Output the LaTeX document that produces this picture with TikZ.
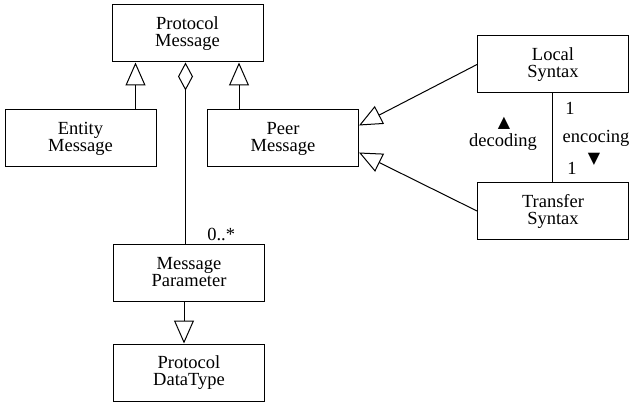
\documentclass[tikz,border=0pt]{standalone}
\usepackage{fontspec}
\setmainfont{Liberation Serif}
\newfontfamily\symfont{DejaVu Sans}
\usetikzlibrary{arrows.meta}

\begin{document}
\begin{tikzpicture}[x=1pt,y=-1pt,line width=1pt,
    every node/.style={font=\fontsize{18.5}{17}\selectfont},
    class/.style={draw,align=center,minimum width=151pt,minimum height=57pt,inner sep=0pt},
    mark sym/.style={inner sep=0pt,font=\symfont\fontsize{16}{16}\selectfont},
    inh/.style={-{Triangle[open,length=23pt,width=20pt]}},
    agg/.style={{Diamond[open,length=28pt,width=15pt]}-}]
    \useasboundingbox (0,0) rectangle (631,403);
    \node[class] at (187.5, 33.5) (pm) {Protocol\\Message};
    \node[class] at (80.5, 138.5) (em) {Entity\\Message};
    \node[class] at (283, 138.5)  (peer) {Peer\\Message};
    \node[class] at (553, 64.5)   (ls) {Local\\Syntax};
    \node[class] at (553, 211)    (ts) {Transfer\\Syntax};
    \node[class] at (189, 272.5)  (mp) {Message\\Parameter};
    \node[class] at (189, 372.5)  (dt) {Protocol\\DataType};
    \draw [inh] ([xshift=-21pt]em.north east) -- ([xshift=-21pt]em.north east |- pm.south);
    \draw [inh] ([xshift=32pt]peer.north west) -- ([xshift=32pt]peer.north west |- pm.south);
    \draw [agg] ([xshift=-2pt]pm.south) -- ([xshift=-2pt]pm.south |- mp.north)
        node[above right,xshift=18pt,yshift=-1pt] (many) {0..*};
    \draw [inh] ([xshift=-5pt]mp.south) -- ([xshift=-5pt]dt.north);
    \draw [inh] (ls.west) -- ([yshift=-16pt]peer.north east);
    \draw [inh] (ts.west) -- ([yshift=15pt]peer.south east);
    \draw (ls.south -| 552,0) -- (ts.north -| 552,0);
    \node at (570, 108) (one1) {1};
    \node at (572, 168) (one2) {1};
    \node at (503, 142) (dec) {decoding};
    \node[mark sym] at (504, 123) (up) {▲};
    \node at (596, 138) (enc) {encocing};
    \node[mark sym] at (594, 159) (down) {▼};
  \end{tikzpicture}
\end{document}
